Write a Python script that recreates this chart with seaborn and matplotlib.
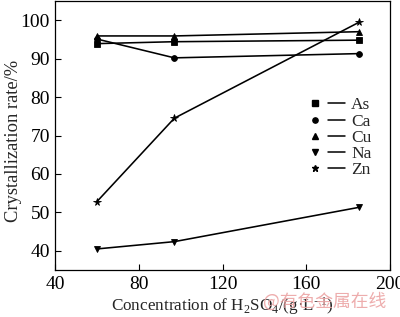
import matplotlib
matplotlib.use("Agg")
import matplotlib.pyplot as plt
import seaborn as sns
import pandas as pd
from matplotlib.lines import Line2D
from matplotlib.legend_handler import HandlerTuple

concentration = [60, 97, 185]
as_rate = [93.9, 94.4, 94.8]
ca_rate = [95.1, 90.2, 91.3]
cu_rate = [95.9, 95.9, 97.0]
na_rate = [40.5, 42.4, 51.3]
zn_rate = [52.8, 74.5, 99.4]
elements = ["As", "Ca", "Cu", "Na", "Zn"]
markers = ["s", "o", "^", "v", "*"]
x_ticks = [40, 80, 120, 160, 200]
y_ticks = [40, 50, 60, 70, 80, 90, 100]

series = [as_rate, ca_rate, cu_rate, na_rate, zn_rate]
rows = []
for el, vals in zip(elements, series):
    for c, v in zip(concentration, vals):
        rows.append({"Concentration": c, "Rate": v, "Element": el})
df = pd.DataFrame(rows)

sns.set_style("ticks")
plt.rcParams["font.family"] = ["Liberation Serif", "DejaVu Serif"]
plt.rcParams["mathtext.fontset"] = "custom"
plt.rcParams["mathtext.rm"] = "Liberation Serif"
plt.rcParams["mathtext.it"] = "Liberation Serif:italic"

fig = plt.figure(figsize=(4.0, 3.17), dpi=100)
ax = fig.add_axes([0.1375, 0.148, 0.8375, 0.849])

msizes = {"s": 4, "o": 4.2, "^": 4.4, "v": 4.4, "*": 5.5}
for el, m in zip(elements, markers):
    sub = df[df["Element"] == el]
    sns.lineplot(data=sub, x="Concentration", y="Rate", ax=ax, color="black",
                 marker=m, markersize=msizes[m], linewidth=1.15,
                 markeredgecolor="black", markeredgewidth=0.6, legend=False)

ax.set_xlim(40, 200)
ax.set_ylim(35, 105)
ax.set_xticks(x_ticks)
ax.set_yticks(y_ticks)
ax.tick_params(direction="in", length=4, width=0.8, labelsize=14, colors="black")
ax.tick_params(axis="y", pad=3.6)
ax.tick_params(axis="x", pad=4)
for s in ax.spines.values():
    s.set_linewidth(0.9)
    s.set_color("black")

ax.set_xlabel("Concentration of H$_2$SO$_4$/(g\u00b7L$^{-1}$)", fontsize=12.3, labelpad=2)
ax.set_ylabel("Crystallization rate/%", fontsize=13.3)
ax.yaxis.set_label_coords(-0.098, 0.48)

handles = []
for m in markers:
    mk = Line2D([], [], marker=m, color="black", linestyle="none",
                markersize=3.8 if m != "*" else 4.8)
    ln = Line2D([], [], color="black", linewidth=1.1)
    handles.append((mk, ln))
ax.legend(handles, elements, handler_map={tuple: HandlerTuple(ndivide=None, pad=0.25)},
          loc="upper left", bbox_to_anchor=(0.705, 0.70), frameon=False,
          fontsize=12.5, handlelength=2.2, handletextpad=0.35, labelspacing=0.0,
          borderpad=0.4)

fig.text(0.657, 0.032, "@有色金属在线", fontsize=12.8, color="#eca4a4",
         family=["Noto Sans CJK SC", "DejaVu Sans"], alpha=0.9)

fig.savefig("out.png", dpi=100)
